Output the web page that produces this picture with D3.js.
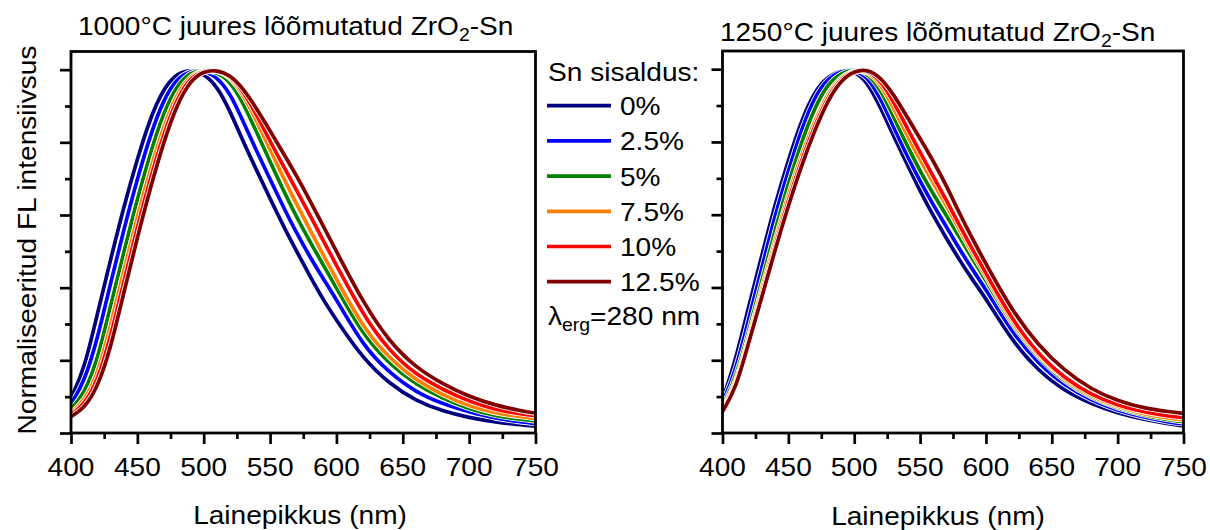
<!DOCTYPE html>
<html><head><meta charset="utf-8">
<script src="https://cdn.jsdelivr.net/npm/d3@7"></script>
<style>
body{margin:0;background:#fff}
text{font-family:"Liberation Sans",Arial,Helvetica,sans-serif;fill:#000}
</style>
</head><body>
<svg id="c" width="1210" height="530"></svg>
<script>
// ---- data ----
const wavelengths = [400,410,420,430,440,450,460,470,480,490,500,510,520,530,540,550,560,570,580,590,600,620,640,660,680,700,720,740,750];
const seriesNames = ["0%","2.5%","5%","7.5%","10%","12.5%"];
const xTickLabels = [400,450,500,550,600,650,700,750];
const xMinorTicks = [425,475,525,575,625,675,725];
const yMajorTicks = [0,0.2,0.4,0.6,0.8,1.0];
const yMinorTicks = [0.1,0.3,0.5,0.7,0.9];

// 1000 °C
const t1000_0   = [0.095,0.175,0.33,0.48,0.625,0.755,0.87,0.95,0.99,1.0,0.99,0.955,0.885,0.80,0.722,0.645,0.57,0.50,0.432,0.367,0.31,0.205,0.135,0.088,0.06,0.042,0.03,0.022,0.019];
const t1000_25  = [0.08,0.14,0.26,0.415,0.563,0.70,0.823,0.92,0.977,0.997,0.998,0.98,0.935,0.855,0.775,0.698,0.622,0.55,0.485,0.425,0.368,0.24,0.165,0.112,0.08,0.058,0.04,0.03,0.026];
const t1000_5   = [0.065,0.108,0.20,0.353,0.50,0.645,0.773,0.884,0.958,0.993,0.999,0.993,0.968,0.907,0.827,0.747,0.668,0.594,0.527,0.463,0.40,0.27,0.19,0.133,0.095,0.066,0.047,0.037,0.033];
const t1000_75  = [0.055,0.088,0.16,0.298,0.45,0.596,0.729,0.848,0.936,0.984,0.999,0.998,0.98,0.93,0.858,0.78,0.703,0.63,0.56,0.49,0.424,0.29,0.205,0.145,0.105,0.074,0.054,0.044,0.04];
const t1000_10  = [0.05,0.078,0.142,0.266,0.42,0.567,0.703,0.826,0.922,0.978,0.998,1.0,0.982,0.94,0.875,0.803,0.735,0.668,0.60,0.53,0.462,0.325,0.225,0.16,0.12,0.087,0.064,0.052,0.048];
const t1000_125 = [0.045,0.068,0.125,0.235,0.39,0.538,0.677,0.803,0.906,0.97,0.996,0.999,0.985,0.947,0.892,0.832,0.77,0.708,0.64,0.57,0.50,0.36,0.25,0.18,0.135,0.10,0.076,0.06,0.055];

// 1250 °C
const t1250_0   = [0.091,0.20,0.35,0.49,0.63,0.75,0.86,0.94,0.98,0.998,0.995,0.965,0.895,0.815,0.74,0.665,0.597,0.535,0.475,0.42,0.37,0.252,0.17,0.115,0.08,0.054,0.037,0.024,0.019];
const t1250_25  = [0.082,0.17,0.315,0.455,0.60,0.72,0.835,0.925,0.975,0.995,0.998,0.98,0.92,0.84,0.763,0.692,0.627,0.567,0.505,0.448,0.395,0.275,0.19,0.13,0.09,0.062,0.043,0.029,0.025];
const t1250_5   = [0.072,0.15,0.28,0.42,0.56,0.685,0.80,0.895,0.96,0.99,1.0,0.99,0.945,0.868,0.792,0.72,0.657,0.598,0.538,0.477,0.42,0.295,0.205,0.14,0.097,0.068,0.049,0.035,0.031];
const t1250_75  = [0.066,0.135,0.265,0.40,0.53,0.655,0.765,0.857,0.935,0.98,0.998,0.995,0.96,0.892,0.82,0.75,0.687,0.625,0.558,0.492,0.432,0.30,0.21,0.145,0.10,0.072,0.052,0.04,0.036];
const t1250_10  = [0.062,0.125,0.255,0.385,0.515,0.64,0.75,0.845,0.925,0.975,0.997,0.998,0.97,0.91,0.84,0.772,0.705,0.64,0.57,0.503,0.44,0.31,0.215,0.15,0.105,0.076,0.057,0.046,0.042];
const t1250_125 = [0.059,0.12,0.25,0.375,0.505,0.625,0.735,0.832,0.915,0.97,0.995,1.0,0.978,0.93,0.87,0.81,0.748,0.68,0.603,0.532,0.465,0.335,0.24,0.17,0.12,0.088,0.068,0.058,0.054];

// ---- styling ----
const colors = ["#000080","#0000FF","#008000","#FF8000","#FF0000","#800000"];
const SX = 1.08, FS = 26;
const svg = d3.select("#c");

function stext(g, x, y, anchor, size) {
  return g.append("text")
    .attr("transform", `translate(${x},${y}) scale(${SX},1)`)
    .attr("text-anchor", anchor)
    .style("font-size", size + "px");
}

function panel(opts) {
  const {x0, x1, y0, y1, series, title, titleX, titleY, xlabel, xlabelX, xlabelY} = opts;
  const x = d3.scaleLinear().domain([400, 750]).range([x0, x1]);
  const y = d3.scaleLinear().domain([0, 1.05]).range([y1, y0]);
  const g = svg.append("g");
  const clipId = "clip" + Math.round(x0);
  svg.append("clipPath").attr("id", clipId).append("rect")
    .attr("x", x0).attr("y", y0).attr("width", x1 - x0).attr("height", y1 - y0);

  const line = d3.line()
    .x((d, i) => x(wavelengths[i]))
    .y(d => y(d))
    .curve(d3.curveBasis);
  const lg = g.append("g").attr("clip-path", `url(#${clipId})`);
  series.forEach((s, k) => {
    lg.append("path").attr("d", line(s)).attr("fill", "none")
      .attr("stroke", "#fff").attr("stroke-width", 5.4).attr("stroke-linejoin", "round");
    lg.append("path").attr("d", line(s)).attr("fill", "none")
      .attr("stroke", colors[k]).attr("stroke-width", 3.7).attr("stroke-linejoin", "round");
  });

  // axes ticks
  const ax = g.append("g").attr("transform", `translate(0,${y1})`)
    .call(d3.axisBottom(x).tickValues(xTickLabels).tickSize(11).tickSizeOuter(0).tickFormat(""));
  const axm = g.append("g").attr("transform", `translate(0,${y1})`)
    .call(d3.axisBottom(x).tickValues(xMinorTicks).tickSize(6).tickSizeOuter(0).tickFormat(""));
  const ay = g.append("g").attr("transform", `translate(${x0},0)`)
    .call(d3.axisLeft(y).tickValues(yMajorTicks).tickSize(11).tickSizeOuter(0).tickFormat(""));
  const aym = g.append("g").attr("transform", `translate(${x0},0)`)
    .call(d3.axisLeft(y).tickValues(yMinorTicks).tickSize(6).tickSizeOuter(0).tickFormat(""));
  [ax, axm, ay, aym].forEach(a => {
    a.select(".domain").remove();
    a.selectAll(".tick line").attr("stroke", "#000").attr("stroke-width", 2.7);
  });

  // frame
  g.append("rect").attr("x", x0).attr("y", y0).attr("width", x1 - x0).attr("height", y1 - y0)
    .attr("fill", "none").attr("stroke", "#000").attr("stroke-width", 2.8);

  // tick labels
  xTickLabels.forEach(v => {
    stext(g, x(v), y1 + 43, "middle", FS).text(v);
  });

  // title with subscript
  const t = stext(g, titleX, titleY, "start", FS);
  t.append("tspan").text(title);
  t.append("tspan").attr("dy", 6).style("font-size", "18px").text("2");
  t.append("tspan").attr("dy", -6).text("-Sn");

  // x label
  stext(g, xlabelX, xlabelY, "middle", FS).text(xlabel);
}

panel({x0: 71, x1: 535.5, y0: 51.5, y1: 433,
  series: [t1000_0, t1000_25, t1000_5, t1000_75, t1000_10, t1000_125],
  title: "1000°C juures lõõmutatud ZrO", titleX: 78, titleY: 35,
  xlabel: "Lainepikkus (nm)", xlabelX: 300, xlabelY: 524});
panel({x0: 722.5, x1: 1183.5, y0: 51, y1: 433,
  series: [t1250_0, t1250_25, t1250_5, t1250_75, t1250_10, t1250_125],
  title: "1250°C juures lõõmutatud ZrO", titleX: 720, titleY: 41,
  xlabel: "Lainepikkus  (nm)", xlabelX: 938, xlabelY: 525});

// y label
svg.append("text")
  .attr("transform", `translate(36,240) rotate(-90) scale(${SX},1)`)
  .attr("text-anchor", "middle").style("font-size", FS + "px")
  .text("Normaliseeritud FL intensiivsus");

// legend
const leg = svg.append("g");
stext(leg, 548, 81, "start", FS).text("Sn sisaldus:");
const legY = d3.scalePoint().domain(seriesNames).range([105.7, 281.7]);
seriesNames.forEach((n, k) => {
  leg.append("line").attr("x1", 547).attr("x2", 611)
    .attr("y1", legY(n)).attr("y2", legY(n))
    .attr("stroke", colors[k]).attr("stroke-width", 3.7);
  stext(leg, 620, legY(n) + 9.5, "start", FS).text(n);
});
const lam = stext(leg, 548, 325, "start", FS);
lam.append("tspan").text("λ");
lam.append("tspan").attr("dy", 6).style("font-size", "18px").text("erg");
lam.append("tspan").attr("dy", -6).text("=280 nm");
</script>
</body></html>
